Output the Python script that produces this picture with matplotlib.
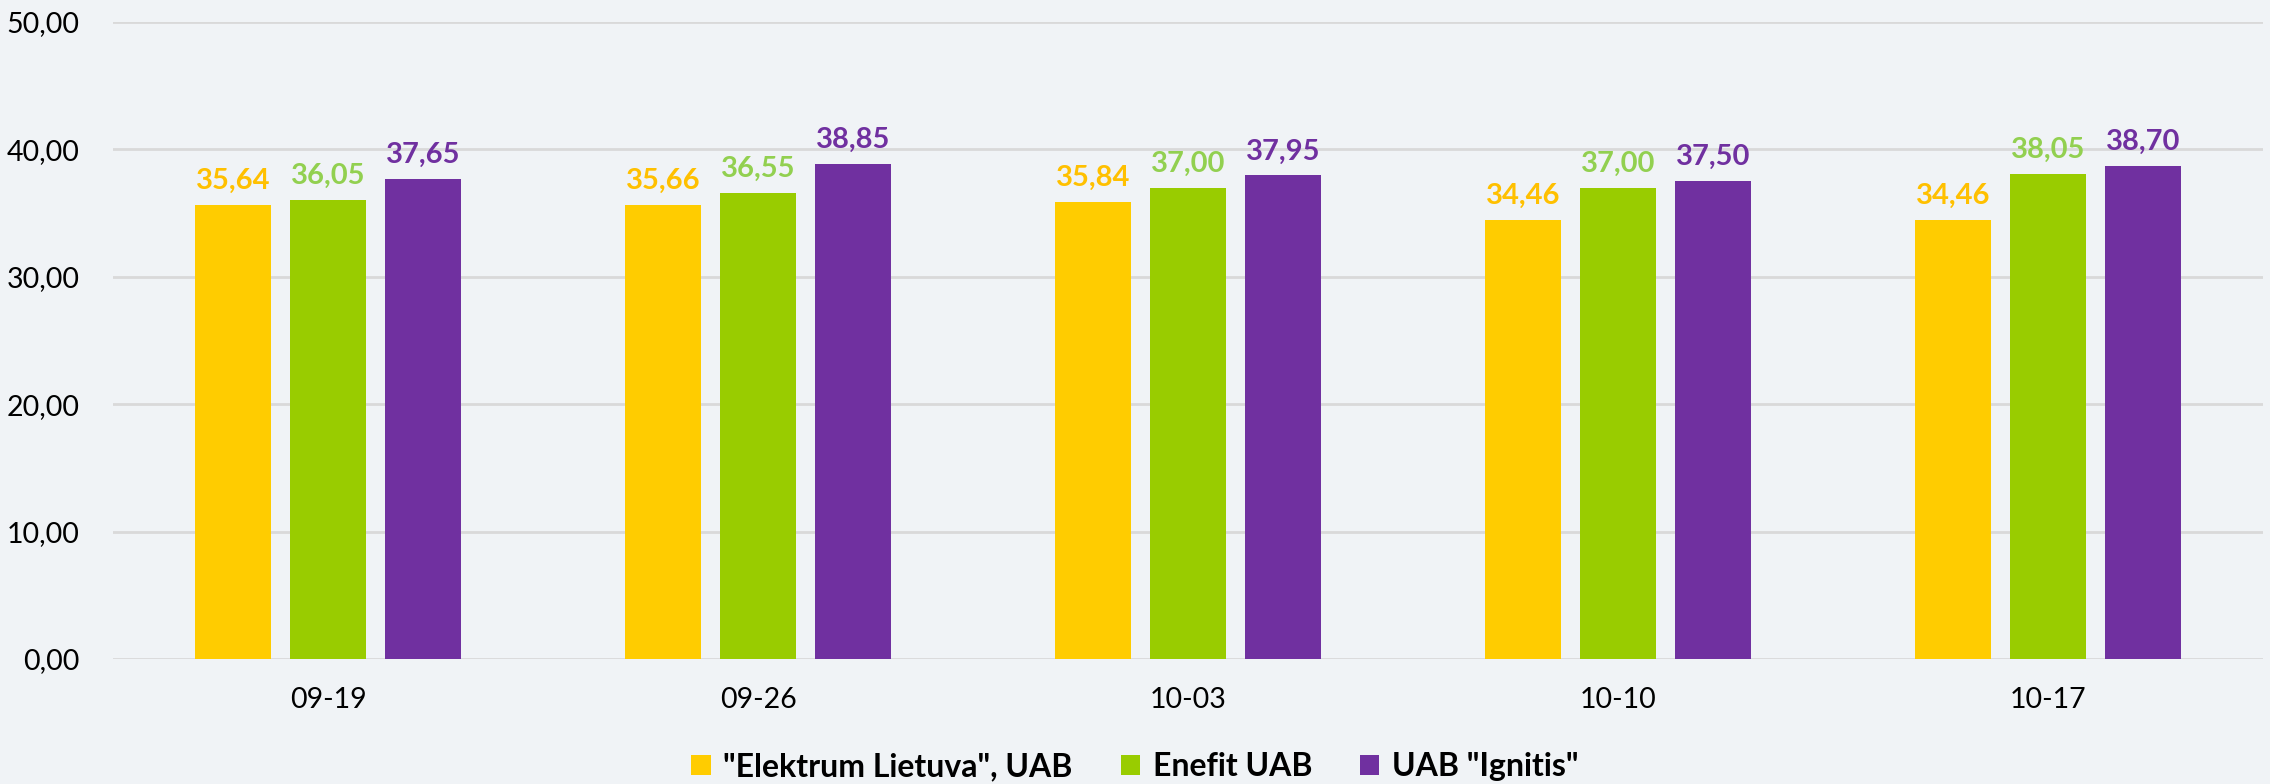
import numpy as np
from matplotlib import pyplot as plt

FECHAS = ["09-19", "09-26", "10-03", "10-10", "10-17"]
SERIES = ['"Elektrum Lietuva", UAB', "Enefit UAB", 'UAB "Ignitis"']
ELEKTRUM = [35.64, 35.66, 35.84, 34.46, 34.46]
ENEFIT = [36.05, 36.55, 37.00, 37.00, 38.05]
IGNITIS = [37.65, 38.85, 37.95, 37.50, 38.70]

COLORES_BARRA = ["#FFCC00", "#99CC00", "#7030A0"]
COLORES_TEXTO = ["#FFC000", "#92D050", "#7030A0"]
FONDO = "#F0F3F6"

plt.rcParams['font.family'] = ['Lato', 'DejaVu Sans']

fig = plt.figure(figsize=(22.7, 7.84), dpi=100, facecolor=FONDO)
ax = fig.add_axes([0.0498, 0.1594, 0.9472, 0.8126])
ax.set_facecolor(FONDO)

x = np.arange(len(FECHAS))
ancho = 0.177
paso = 0.221
valores = [ELEKTRUM, ENEFIT, IGNITIS]

for i, (serie, vals) in enumerate(zip(SERIES, valores)):
    pos = x + (i - 1) * paso
    ax.bar(pos, vals, width=ancho, color=COLORES_BARRA[i], label=serie, zorder=3)
    for px, v in zip(pos, vals):
        ax.annotate(f"{v:.2f}".replace(".", ","), (px, v), xytext=(0, 8),
                    textcoords="offset points", ha="center", va="bottom",
                    fontsize=21, fontweight="bold", color=COLORES_TEXTO[i])

ax.set_xlim(-0.5, len(FECHAS) - 0.5)
ax.set_ylim(0, 50)
ax.set_yticks(np.arange(0, 51, 10))
ax.set_yticklabels([f"{t:.2f}".replace(".", ",") for t in np.arange(0, 51, 10)])
ax.set_xticks(x)
ax.set_xticklabels(FECHAS)
ax.tick_params(axis="both", length=0, labelsize=20.5, colors="#000000")
ax.tick_params(axis="y", pad=24)
ax.tick_params(axis="x", pad=20)
ax.grid(axis="y", color="#D9D9D9", linewidth=2, zorder=0)
for lado in ax.spines.values():
    lado.set_visible(False)

fig.legend(loc="center", bbox_to_anchor=(0.5, 0.022), ncol=3, frameon=False,
           prop={"size": 23, "weight": "bold"}, handlelength=0.6, handleheight=0.6,
           handletextpad=0.4, columnspacing=1.5, borderaxespad=0)

fig.savefig("out.png", dpi=100, facecolor=FONDO)
